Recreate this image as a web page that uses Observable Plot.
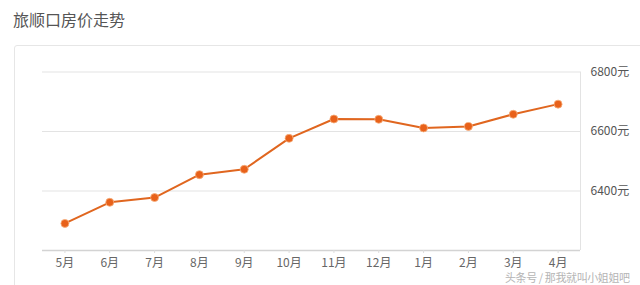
<!DOCTYPE html>
<html><head><meta charset="utf-8">
<script src="https://cdn.jsdelivr.net/npm/d3@7"></script>
<script src="https://cdn.jsdelivr.net/npm/@observablehq/plot@0.6"></script>
<style>
html,body{margin:0;padding:0;background:#fff;width:640px;height:285px;overflow:hidden;font-family:"Noto Sans CJK SC","Noto Sans",sans-serif;}
#title{position:absolute;left:13px;top:7px;font-size:16px;color:#555;line-height:24px;}
#card{position:absolute;left:14px;top:45px;width:640px;height:300px;border:1px solid #e6e6e6;border-radius:3px;box-sizing:border-box;}
#chart{position:absolute;left:0;top:0;}
#wm{position:absolute;left:505px;top:271px;font-size:11px;letter-spacing:-0.4px;color:#b5b5b5;line-height:12px;white-space:nowrap;}
</style></head>
<body>
<div id="title">旅顺口房价走势</div>
<div id="card"></div>
<div id="chart"></div>
<div id="wm">头条号 / 那我就叫小姐姐吧</div>
<script>
const months = ["5月","6月","7月","8月","9月","10月","11月","12月","1月","2月","3月","4月"];
const prices = [6291,6362,6378,6455,6473,6577,6642,6641,6612,6617,6658,6692];
const yTicks = [6400,6600,6800];

const data = months.map((m,i)=>({i, m, v: prices[i]}));

const chart = Plot.plot({
  width: 640,
  height: 285,
  marginTop: 71.5,
  marginBottom: 35,
  marginLeft: 42,
  marginRight: 60,
  style: {fontFamily: '"Noto Sans CJK SC","Noto Sans",sans-serif', background: "transparent"},
  x: {type: "linear", domain: [-0.5, months.length - 0.5], label: null},
  y: {domain: [6200, 6800], label: null},
  marks: [
    Plot.ruleY(yTicks, {stroke: "#e3e3e3", strokeWidth: 1}),
    Plot.ruleX([months.length - 0.5], {stroke: "#e3e3e3", strokeWidth: 1}),
    Plot.ruleY([6200], {stroke: "#d3d3d3", strokeWidth: 1.5}),
    Plot.axisX({ticks: d3.range(months.length), tickFormat: i => months[i], tickSize: 3, tickPadding: 5, fontSize: 12, color: "#666", stroke: "#ddd", label: null}),
    Plot.axisY({anchor: "right", ticks: yTicks, tickFormat: d => d + "元", tickSize: 0, tickPadding: 10, fontSize: 12, color: "#555", label: null}),
    Plot.line(data, {x: "i", y: "v", stroke: "#e0661f", strokeWidth: 2}),
    Plot.dot(data, {x: "i", y: "v", r: 4, fill: "#e8611a", stroke: "#f6b07e", strokeWidth: 0.8})
  ]
});
document.getElementById("chart").appendChild(chart);
</script>
</body></html>
